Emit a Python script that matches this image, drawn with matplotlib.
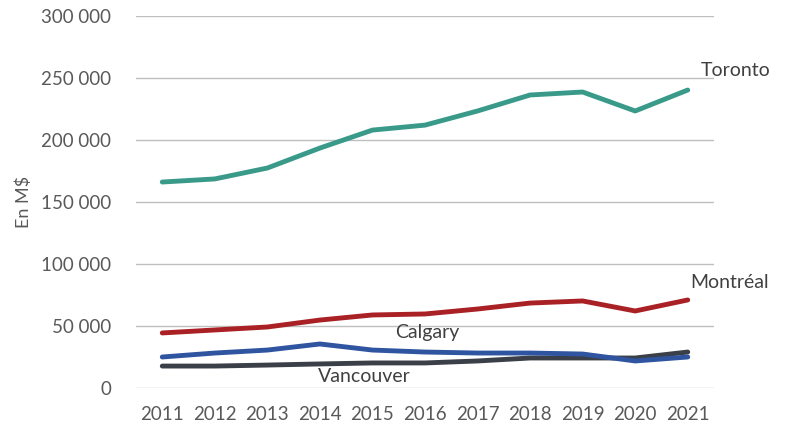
import numpy as np
import matplotlib
matplotlib.use('Agg')
import matplotlib.pyplot as plt
from matplotlib.ticker import FuncFormatter

years = ['2011', '2012', '2013', '2014', '2015', '2016', '2017', '2018', '2019', '2020', '2021']
toronto = [166100, 168600, 177400, 193500, 208000, 212000, 223400, 236300, 238700, 223400, 240300]
montreal = [44400, 46800, 49200, 54800, 58900, 59700, 63700, 68500, 70200, 62100, 71000]
calgary = [25000, 28200, 30600, 35500, 30600, 29000, 28200, 28200, 27400, 21800, 25000]
vancouver = [17700, 17700, 18500, 19400, 20200, 20200, 21800, 24200, 24200, 24200, 29000]

plt.rcParams['font.family'] = ['Lato', 'DejaVu Sans']
txt = '#595959'

fig = plt.figure(figsize=(7.96, 4.29), dpi=100)
ax = fig.add_axes([136 / 796, 1 - 388 / 429, 578 / 796, 372 / 429])
x = np.arange(len(years))

ax.plot(x, toronto, color='#3A9A8A', lw=3.5, solid_capstyle='round')
ax.plot(x, montreal, color='#A92025', lw=3.5, solid_capstyle='round')
ax.plot(x, vancouver, color='#3A3F48', lw=3.5, solid_capstyle='round')
ax.plot(x, calgary, color='#2F55A0', lw=3.5, solid_capstyle='round')

ax.set_xlim(-0.5, len(years) - 0.5)
ax.set_ylim(0, 300000)
ax.set_yticks(np.arange(0, 300001, 50000))
ax.yaxis.set_major_formatter(FuncFormatter(lambda v, p: f'{int(v):,}'.replace(',', ' ')))
ax.set_xticks(x)
ax.set_xticklabels(years)
ax.grid(axis='y', color='#BFBFBF', lw=1)
ax.set_axisbelow(True)
for s in ax.spines.values():
    s.set_visible(False)
ax.tick_params(length=0, labelsize=13.5, labelcolor=txt)
ax.tick_params(axis='y', pad=18)
ax.tick_params(axis='x', pad=13)
ax.set_ylabel('En M$', fontsize=13, color=txt, labelpad=6)

ax.text(10.25, 252000, 'Toronto', fontsize=14, color='#404040')
ax.text(10.05, 81000, 'Montréal', fontsize=14, color='#404040')
ax.text(5.05, 40000, 'Calgary', fontsize=14, color='#404040', ha='center')
ax.text(3.85, 4500, 'Vancouver', fontsize=14, color='#404040', ha='center')

fig.savefig('out.png', dpi=100)
